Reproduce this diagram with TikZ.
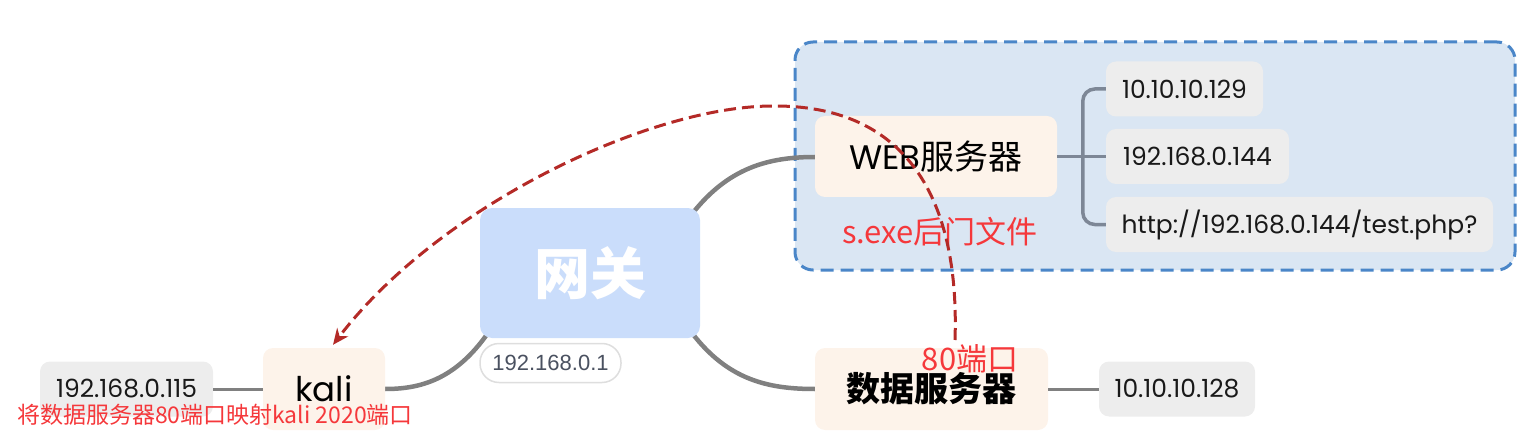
\documentclass[tikz,border=0pt]{standalone}
\usepackage{fontspec}
\newfontfamily\cjk{Noto Sans CJK SC}
\newfontfamily\pop{Poppins}
\newfontfamily\lib{Liberation Sans}
\usetikzlibrary{calc,arrows.meta}
\definecolor{peach}{HTML}{FDF3EA}
\definecolor{ipgray}{HTML}{EDEDED}
\definecolor{grpfill}{HTML}{DAE6F3}
\definecolor{grpdraw}{HTML}{4A86C8}
\definecolor{gwfill}{HTML}{CADDFB}
\definecolor{conngray}{HTML}{808080}
\definecolor{brgray}{HTML}{7D8796}
\definecolor{redtxt}{HTML}{F5383B}
\definecolor{redarrow}{HTML}{B42A27}
\definecolor{labtxt}{HTML}{4A5160}
\tikzset{
  server/.style={fill=peach, rounded corners=10, inner sep=0pt},
  ipbox/.style={fill=ipgray, rounded corners=10, inner sep=0pt, minimum height=55, text=black!90},
  conn/.style={draw=conngray, line width=4.5},
  leaf/.style={draw=conngray, line width=3},
  br/.style={draw=brgray, line width=3.5},
  redlabel/.style={text=redtxt, inner sep=0pt},
  iptext/.style={font=\pop\fontsize{25}{30}\selectfont},
}
\begin{document}
\begin{tikzpicture}[x=1pt,y=-1pt]
\useasboundingbox (0,0) rectangle (1535,441);
% group container
\node[draw=grpdraw, fill=grpfill, line width=3, dash pattern=on 13pt off 7pt, rounded corners=18,
  minimum width=720, minimum height=228, inner sep=0pt] (grp) at (1155,156) {};
% coordinates where gateway connectors leave the gateway box
\coordinate (gwNE) at (692,214);
\coordinate (gwSE) at (692,333);
\coordinate (gwSW) at (488,333);
% gateway connectors (drawn first, behind nodes)
\coordinate (webW) at (815,157);
\coordinate (dbW) at (815,389);
\coordinate (kaliE) at (385,389);
\draw[conn] (gwNE) .. controls (728,168) and (768,157) .. (webW);
\draw[conn] (gwSE) .. controls (728,380) and (768,389) .. (dbW);
\draw[conn] (gwSW) .. controls (455,380) and (420,389) .. (kaliE);
% nodes
\node[fill=gwfill, rounded corners=12, minimum width=220, minimum height=130, inner sep=0pt, text=white]
  (gw) at (590,273) {\cjk\bfseries\fontsize{56}{62}\selectfont 网关};
\node[server, minimum width=242, minimum height=81] (web) at (936,156.5)
  {\fontsize{34}{38}\selectfont\pop WEB\cjk 服务器};
\node[server, minimum width=233, minimum height=82] (db) at (931.5,389)
  {\cjk\bfseries\fontsize{34}{38}\selectfont 数据服务器};
\node[server, minimum width=122, minimum height=82] (kali) at (324,389)
  {\pop\fontsize{34}{38}\selectfont kali};
\node[ipbox, minimum width=157] (ip1) at (1184.5,89) {\pop\fontsize{25}{30}\selectfont 10.10.10.129};
\node[ipbox, minimum width=183] (ip2) at (1197.5,156.5) {\pop\fontsize{25}{30}\selectfont 192.168.0.144};
\node[ipbox, minimum width=387] (ip3) at (1299.5,224.5) {\pop\fontsize{25}{30}\selectfont http://192.168.0.144/test.php?};
\node[ipbox, minimum width=173] (ipk) at (126.5,389) {\pop\fontsize{25}{30}\selectfont 192.168.0.115};
\node[ipbox, minimum width=156] (ipd) at (1177,389) {\pop\fontsize{25}{30}\selectfont 10.10.10.128};
\node[fill=white, draw=black!13, line width=1.5, rounded corners=19, minimum width=141, minimum height=39,
  inner sep=0pt, text=labtxt] (gwip) at (550.5,363) {\lib\fontsize{22}{26}\selectfont 192.168.0.1};
% leaf connectors
\draw[br] (web.east) -- (ip2.west);
\draw[br, rounded corners=12] (ip1.west) -- ++(-23,0) |- (ip3.west);
\draw[leaf] (ipk.east) -- (kali.west);
\draw[leaf] (db.east) -- (ipd.west);
% red labels
\node[redlabel] (sexe) at (940,232) {\cjk\fontsize{31}{36}\selectfont s.exe后门文件};
\node[redlabel] (p80) at (970,359) {\cjk\fontsize{31}{36}\selectfont 80端口};
\node[redlabel] (map) at (215,415) {\cjk\fontsize{23}{26}\selectfont 将数据服务器80端口映射kali 2020端口};
% dashed arrow
\coordinate (arcstart) at (955,340);
\coordinate (top) at (773,106);
\draw[draw=redarrow, line width=3, dash pattern=on 12pt off 6pt, -{Stealth[length=16pt,width=14pt]}]
  (arcstart) .. controls (960,190) and (900,105) .. (top)
  .. controls (650,106) and (440,205) .. ($(kali.north)+(9,-3)$);
\end{tikzpicture}
\end{document}
